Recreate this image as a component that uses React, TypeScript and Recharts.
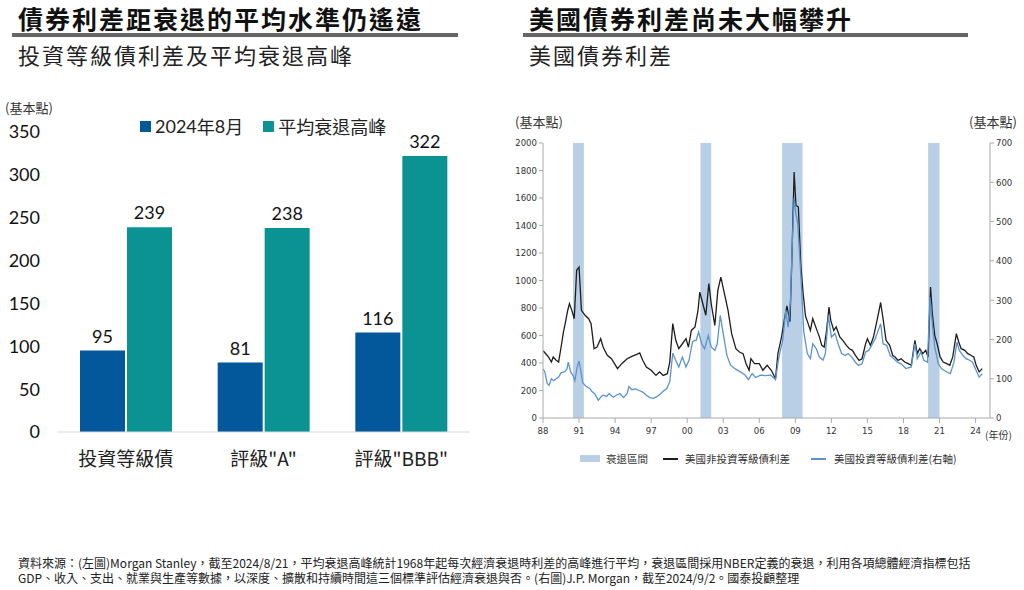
import { BarChart, Bar, XAxis, YAxis, LabelList, ComposedChart, Line, ReferenceArea } from "recharts";

// left chart
const categories = ["投資等級債", "評級\"A\"", "評級\"BBB\""];
const aug2024 = [95, 81, 116];
const recessionPeak = [239, 238, 322];
const barTicks = [0, 50, 100, 150, 200, 250, 300, 350];

// right chart
const recessionStart = [1990.5, 2001.1, 2007.9, 2020.05];
const recessionEnd = [1991.4, 2002.0, 2009.6, 2021.0];
const xTicks = [1988, 1991, 1994, 1997, 2000, 2003, 2006, 2009, 2012, 2015, 2018, 2021, 2024];
const leftTicks = [0, 200, 400, 600, 800, 1000, 1200, 1400, 1600, 1800, 2000];
const rightTicks = [0, 100, 200, 300, 400, 500, 600, 700];

const hyYears = [
  1988.0, 1988.1, 1988.3, 1988.45, 1988.7, 1988.85, 1989.1, 1989.3, 1989.55, 1989.7, 1989.9,
  1990.05, 1990.2, 1990.4, 1990.6, 1990.8, 1991.0, 1991.2, 1991.5, 1991.8, 1992.0, 1992.25,
  1992.5, 1992.8, 1993.0, 1993.35, 1993.7, 1994.2, 1994.55, 1995.0, 1995.4, 1995.8, 1996.05,
  1996.3, 1996.6, 1997.0, 1997.4, 1997.7, 1998.0, 1998.35, 1998.55, 1998.8, 1999.05, 1999.3,
  1999.6, 1999.9, 2000.1, 2000.35, 2000.65, 2000.9, 2001.05, 2001.3, 2001.55, 2001.8, 2002.0,
  2002.3, 2002.55, 2002.8, 2003.1, 2003.4, 2003.7, 2004.05, 2004.35, 2004.65, 2004.9, 2005.15,
  2005.3, 2005.6, 2006.0, 2006.3, 2006.65, 2007.0, 2007.35, 2007.55, 2007.85, 2008.1, 2008.3,
  2008.55, 2008.7, 2008.9, 2009.05, 2009.25, 2009.45, 2009.65, 2009.85, 2010.05, 2010.25,
  2010.45, 2010.75, 2011.0, 2011.2, 2011.4, 2011.6, 2011.8, 2011.95, 2012.2, 2012.4, 2012.7,
  2012.95, 2013.25, 2013.5, 2013.75, 2014.0, 2014.3, 2014.55, 2014.85, 2015.0, 2015.25, 2015.5,
  2015.8, 2016.1, 2016.3, 2016.55, 2016.85, 2017.1, 2017.3, 2017.55, 2017.8, 2018.1, 2018.4,
  2018.65, 2018.95, 2019.15, 2019.35, 2019.6, 2019.85, 2020.05, 2020.25, 2020.4, 2020.6, 2020.8,
  2021.05, 2021.3, 2021.6, 2021.85, 2022.1, 2022.4, 2022.6, 2022.8, 2023.1, 2023.35, 2023.6,
  2023.85, 2024.05, 2024.3, 2024.55,
];
const hySpread = [
  490, 480, 460, 444, 407, 444, 420, 407, 540, 625, 710,
  780, 831, 783, 722, 1074, 1098, 783, 747, 722, 686, 504,
  516, 577, 516, 456, 431, 359, 395, 431, 448, 463, 473,
  420, 371, 347, 310, 335, 310, 322, 407, 686, 565, 504,
  540, 577, 516, 637, 662, 783, 916, 831, 747, 977, 831,
  674, 928, 1025, 904, 783, 613, 504, 480, 468, 395, 347,
  431, 395, 395, 347, 383, 347, 286, 468, 589, 722, 815,
  700, 1122, 1789, 1547, 1534, 1122, 904, 740, 690, 637,
  722, 650, 590, 528, 516, 637, 807, 710, 637, 662, 589,
  565, 528, 504, 492, 456, 419, 431, 540, 577, 528, 589,
  710, 840, 722, 565, 528, 456, 444, 419, 431, 407, 395,
  383, 565, 468, 504, 468, 492, 444, 953, 759, 601, 540,
  444, 407, 395, 383, 444, 613, 553, 504, 492, 468, 456,
  444, 383, 335, 359,
];

const igYears = [
  1988.0, 1988.15, 1988.35, 1988.5, 1988.7, 1988.9, 1989.1, 1989.3, 1989.5, 1989.8, 1990.0,
  1990.1, 1990.3, 1990.5, 1990.65, 1990.85, 1991.0, 1991.15, 1991.3, 1991.6, 1991.9, 1992.05,
  1992.3, 1992.6, 1992.85, 1993.0, 1993.3, 1993.5, 1993.85, 1994.1, 1994.4, 1994.7, 1995.0,
  1995.15, 1995.4, 1995.7, 1996.0, 1996.3, 1996.6, 1996.9, 1997.2, 1997.5, 1997.8, 1998.0,
  1998.3, 1998.55, 1998.8, 1999.0, 1999.3, 1999.6, 1999.9, 2000.15, 2000.45, 2000.75, 2000.95,
  2001.2, 2001.45, 2001.75, 2002.0, 2002.3, 2002.5, 2002.75, 2003.0, 2003.3, 2003.6, 2004.0,
  2004.4, 2004.8, 2005.1, 2005.4, 2005.7, 2006.1, 2006.5, 2006.95, 2007.35, 2007.6, 2007.95,
  2008.2, 2008.4, 2008.6, 2008.75, 2008.9, 2009.05, 2009.2, 2009.45, 2009.7, 2010.0, 2010.25,
  2010.45, 2010.75, 2011.0, 2011.3, 2011.5, 2011.75, 2012.0, 2012.3, 2012.6, 2012.85, 2013.15,
  2013.4, 2013.7, 2014.0, 2014.25, 2014.55, 2014.85, 2015.1, 2015.35, 2015.65, 2015.9, 2016.1,
  2016.3, 2016.6, 2016.9, 2017.2, 2017.5, 2017.8, 2018.2, 2018.65, 2018.95, 2019.15, 2019.45,
  2019.7, 2020.0, 2020.2, 2020.4, 2020.6, 2020.9, 2021.15, 2021.6, 2021.9, 2022.2, 2022.45,
  2022.65, 2022.95, 2023.2, 2023.5, 2023.75, 2024.05, 2024.3, 2024.55,
];
const igSpread = [
  125, 118, 88, 83, 100, 95, 100, 104, 115, 118, 125,
  142, 118, 108, 95, 130, 145, 120, 90, 80, 75, 68,
  62, 45, 55, 58, 55, 62, 53, 58, 62, 52, 62,
  80, 72, 74, 70, 66, 58, 52, 50, 55, 62, 68,
  75, 92, 165, 150, 130, 155, 130, 147, 195, 198, 219,
  189, 176, 210, 181, 172, 189, 261, 215, 160, 135, 125,
  118, 110, 98, 113, 103, 109, 108, 109, 98, 150, 198,
  274, 231, 300, 450, 560, 520, 494, 367, 220, 164, 151,
  189, 176, 155, 147, 164, 261, 206, 215, 185, 164, 159,
  164, 155, 142, 134, 138, 168, 172, 185, 202, 223, 240,
  189, 185, 159, 151, 142, 138, 126, 130, 189, 151, 168,
  147, 142, 308, 240, 181, 138, 126, 117, 113, 142, 193,
  172, 159, 151, 147, 142, 121, 104, 113,
];

const barData = categories.map((c, i) => ({ name: c, aug: aug2024[i], peak: recessionPeak[i] }));
const hyData = hyYears.map((y, i) => ({ year: y, hy: hySpread[i] }));
const igData = igYears.map((y, i) => ({ year: y, ig: igSpread[i] }));

const CJK = "'Noto Sans CJK TC', 'Noto Sans', sans-serif";
const NUM = "Lato, 'Noto Sans CJK TC', sans-serif";
const NARROW = "'Liberation Sans Narrow', 'DejaVu Sans Condensed', 'Liberation Sans', sans-serif";

const BLUE = "#03579b";
const TEAL = "#0b9393";

function Title({ x, text, sub, lineW }: { x: number; text: string; sub: string; lineW: number }) {
  return (
    <>
      <div style={{ position: "absolute", left: x + 6, top: 5, fontSize: 25, fontWeight: 700, letterSpacing: 2, color: "#111", lineHeight: "27px", whiteSpace: "nowrap" }}>
        {text}
      </div>
      <div style={{ position: "absolute", left: x, top: 33, width: lineW, height: 4, background: "#666" }} />
      <div style={{ position: "absolute", left: x + 6, top: 40, fontSize: 22, letterSpacing: 2, color: "#222", lineHeight: "28px", whiteSpace: "nowrap" }}>
        {sub}
      </div>
    </>
  );
}

export default function App() {
  return (
    <div style={{ position: "absolute", left: 0, top: 0, width: 1024, height: 590, background: "#fff", fontFamily: CJK, overflow: "hidden" }}>
      <Title x={12} text="債券利差距衰退的平均水準仍遙遠" sub="投資等級債利差及平均衰退高峰" lineW={446} />
      <Title x={523} text="美國債券利差尚未大幅攀升" sub="美國債券利差" lineW={445} />

      {/* left chart */}
      <div style={{ position: "absolute", left: 5, top: 98, fontSize: 13, color: "#333" }}>(基本點)</div>
      <div style={{ position: "absolute", left: 140, top: 113, display: "flex", alignItems: "center", fontSize: 18, color: "#222", whiteSpace: "nowrap" }}>
        <span style={{ width: 11, height: 11, background: BLUE, marginRight: 4 }} />
        <span style={{ fontFamily: NUM }}>2024</span>年<span style={{ fontFamily: NUM }}>8</span>月
        <span style={{ width: 11, height: 11, background: TEAL, marginLeft: 20, marginRight: 4 }} />
        平均衰退高峰
      </div>
      <div style={{ position: "absolute", left: 0, top: 100 }}>
        <BarChart width={480} height={380} data={barData} margin={{ top: 32, right: 10, left: 12, bottom: 0 }} barSize={45} barGap={2}>
          <XAxis dataKey="name" height={48} tickSize={0} tickMargin={21} axisLine={{ stroke: "#d9d9d9" }} tickLine={false}
            tick={{ fontSize: 19, fill: "#222", fontFamily: CJK }} />
          <YAxis width={45} domain={[0, 350]} ticks={barTicks} tickSize={0} tickMargin={17} axisLine={false} tickLine={false}
            tick={{ fontSize: 18, fill: "#111", fontFamily: NUM }} />
          <Bar dataKey="aug" fill={BLUE} isAnimationActive={false}>
            <LabelList dataKey="aug" position="top" offset={8} style={{ fontSize: 18, fill: "#111", fontFamily: NUM }} />
          </Bar>
          <Bar dataKey="peak" fill={TEAL} isAnimationActive={false}>
            <LabelList dataKey="peak" position="top" offset={8} style={{ fontSize: 18, fill: "#111", fontFamily: NUM }} />
          </Bar>
        </BarChart>
      </div>

      {/* right chart */}
      <div style={{ position: "absolute", left: 515, top: 112, fontSize: 13, color: "#333" }}>(基本點)</div>
      <div style={{ position: "absolute", left: 969, top: 112, fontSize: 13, color: "#333", whiteSpace: "nowrap" }}>(基本點)</div>
      <div style={{ position: "absolute", left: 985, top: 427, fontSize: 10, color: "#333", whiteSpace: "nowrap" }}>(年份)</div>
      <div style={{ position: "absolute", left: 498, top: 100 }}>
        <ComposedChart width={524} height={342} margin={{ top: 43, right: 5, left: 5, bottom: 0 }}>
          <XAxis xAxisId="x" dataKey="year" type="number" domain={[1988, 2025.2]} ticks={xTicks} allowDataOverflow
            tickFormatter={(v: number) => String(v % 100).padStart(2, "0")} height={24} tickSize={5} tickMargin={4}
            axisLine={{ stroke: "#aaa" }} tickLine={{ stroke: "#aaa" }} tick={{ fontSize: 9.5, fill: "#333", fontFamily: NARROW }} />
          <YAxis yAxisId="left" domain={[0, 2000]} ticks={leftTicks} width={40} tickSize={4} tickMargin={2}
            axisLine={{ stroke: "#aaa" }} tickLine={{ stroke: "#aaa" }} tick={{ fontSize: 9.5, fill: "#333", fontFamily: NARROW }} />
          <YAxis yAxisId="right" orientation="right" domain={[0, 700]} ticks={rightTicks} width={27} tickSize={4} tickMargin={2}
            axisLine={{ stroke: "#aaa" }} tickLine={{ stroke: "#aaa" }} tick={{ fontSize: 9.5, fill: "#333", fontFamily: NARROW }} />
          {recessionStart.map((s, i) => (
            <ReferenceArea key={i} xAxisId="x" yAxisId="left" x1={s} x2={recessionEnd[i]} y1={0} y2={2000} fill="#b8cfe6" fillOpacity={1} stroke="none" />
          ))}
          <Line xAxisId="x" yAxisId="left" data={hyData} dataKey="hy" stroke="#1e1e1e" strokeWidth={1.3} dot={false} isAnimationActive={false} />
          <Line xAxisId="x" yAxisId="right" data={igData} dataKey="ig" stroke="#5b93cf" strokeWidth={1.3} dot={false} isAnimationActive={false} />
        </ComposedChart>
      </div>
      <div style={{ position: "absolute", left: 580, top: 451, display: "flex", alignItems: "center", fontSize: 10.5, color: "#333", whiteSpace: "nowrap" }}>
        <span style={{ width: 20, height: 7, background: "#b8cfe6", marginRight: 6 }} />
        衰退區間
        <span style={{ width: 15, height: 2, background: "#1e1e1e", marginLeft: 15, marginRight: 7 }} />
        美國非投資等級債利差
        <span style={{ width: 15, height: 2, background: "#5b93cf", marginLeft: 21, marginRight: 8 }} />
        美國投資等級債利差(右軸)
      </div>

      {/* footnote */}
      <div style={{ position: "absolute", left: 18, top: 555, fontSize: 12, lineHeight: "15px", color: "#222", whiteSpace: "nowrap" }}>
        <div>資料來源：(左圖)Morgan Stanley，截至2024/8/21，平均衰退高峰統計1968年起每次經濟衰退時利差的高峰進行平均，衰退區間採用NBER定義的衰退，利用各項總體經濟指標包括</div>
        <div>GDP、收入、支出、就業與生產等數據，以深度、擴散和持續時間這三個標準評估經濟衰退與否。(右圖)J.P. Morgan，截至2024/9/2。國泰投顧整理</div>
      </div>
    </div>
  );
}
